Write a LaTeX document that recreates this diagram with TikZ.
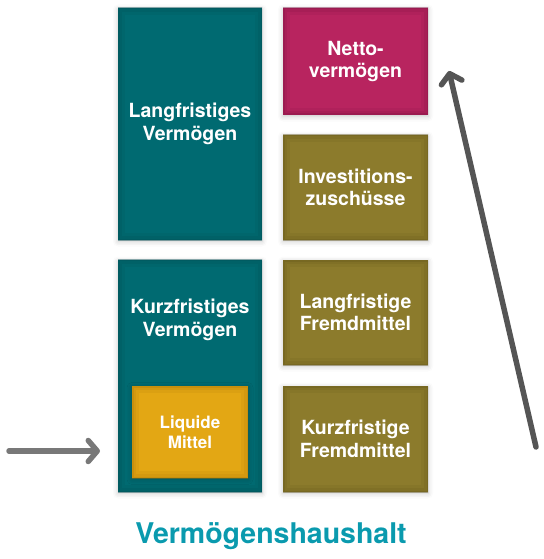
\documentclass[tikz,border=0pt]{standalone}
\usepackage{fontspec}
\setmainfont{TeX Gyre Heros}
\usetikzlibrary{arrows.meta,shadows.blur}
\definecolor{teal1}{HTML}{006A71}
\definecolor{teal2}{HTML}{004A50}
\definecolor{mag1}{HTML}{B8245F}
\definecolor{mag2}{HTML}{7A1040}
\definecolor{oliv1}{HTML}{8C7B2C}
\definecolor{oliv2}{HTML}{5E5218}
\definecolor{gold1}{HTML}{E3A714}
\definecolor{gold2}{HTML}{A87408}
\definecolor{titlec}{HTML}{0A9AAE}
\definecolor{arrL}{HTML}{787878}
\definecolor{arrR}{HTML}{555555}
\tikzset{
  boxfont/.style={font=\bfseries\fontsize{19.5bp}{22.5bp}\selectfont},
  tile/.style={draw=none, fill=#1, text=white, boxfont,
    align=center, inner sep=0pt,
    blur shadow={shadow xshift=0bp, shadow yshift=-1.5bp, shadow blur radius=5bp, shadow opacity=22}},
  vign/.style={path picture={
    \draw[#1, line width=14bp, opacity=0.12] (path picture bounding box.south west) rectangle (path picture bounding box.north east);
    \draw[#1, line width=8bp, opacity=0.15] (path picture bounding box.south west) rectangle (path picture bounding box.north east);
    \draw[#1, line width=3bp, opacity=0.25] (path picture bounding box.south west) rectangle (path picture bounding box.north east);
  }},
  flow/.style={line width=5.5bp, line cap=round, -{Straight Barb[length=9bp, width=21bp, line cap=round, line join=round]}},
}
\begin{document}
\begin{tikzpicture}[x=1bp, y=-1bp]
\useasboundingbox (0,0) rectangle (544,559);
\node[tile=teal1, vign=teal2, minimum width=144bp, minimum height=232bp] (lv) at (190,124) {Langfristiges\\Vermögen};
\node[tile=mag1, vign=mag2, minimum width=145bp, minimum height=107bp] (nv) at (355.5,61.5) {Netto-\\vermögen};
\node[tile=oliv1, vign=oliv2, minimum width=145bp, minimum height=105bp] (iz) at (355.5,187.5) {Investitions-\\zuschüsse};
\node[tile=teal1, vign=teal2, minimum width=144bp, minimum height=232bp] (kv) at (190,376) {};
\node[text=white, boxfont, align=center, inner sep=0pt] (kvt) at (190,320) {Kurzfristiges\\Vermögen};
\node[tile=oliv1, vign=oliv2, minimum width=145bp, minimum height=105bp] (lf) at (355.5,312.5) {Langfristige\\Fremdmittel};
\node[tile=oliv1, vign=oliv2, minimum width=145bp, minimum height=106bp] (kf) at (355.5,439) {Kurzfristige\\Fremdmittel};
\node[tile=gold1, vign=gold2, minimum width=116bp, minimum height=92bp, font=\bfseries\fontsize{17bp}{20.5bp}\selectfont] (lm) at (190,432) {Liquide\\Mittel};
\node[text=titlec, font=\bfseries\fontsize{28.5bp}{32bp}\selectfont, inner sep=0pt] (title) at (271,536) {Vermögenshaushalt};
\coordinate (la) at (9,451);
\coordinate (lb) at (100,451);
\coordinate (ra) at (536,447);
\coordinate (rb) at (449,71);
\draw[flow, draw=arrL] (la) -- (lb);
\draw[flow, draw=arrR] (ra) -- (rb);
\end{tikzpicture}
\end{document}
